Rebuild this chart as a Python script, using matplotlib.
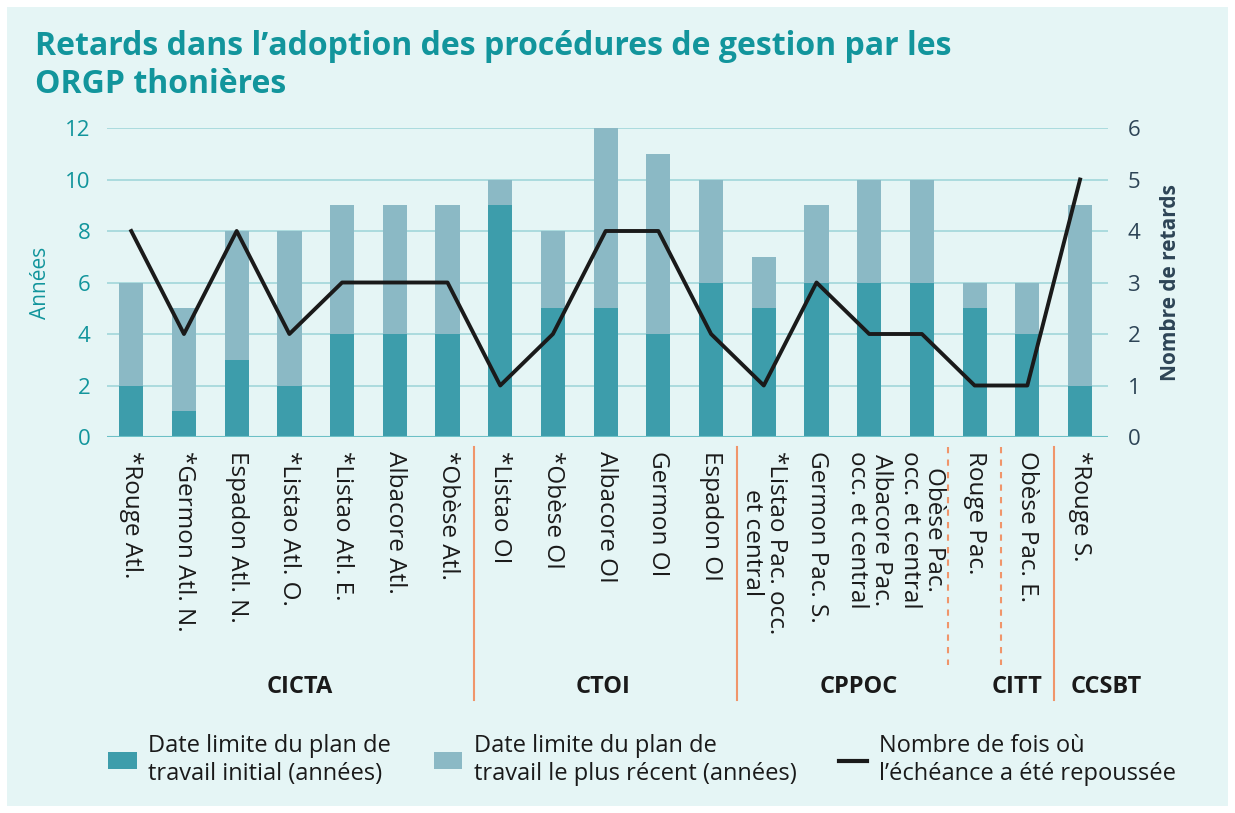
import numpy as np
import matplotlib.pyplot as plt
from matplotlib.patches import Rectangle, Patch
from matplotlib.lines import Line2D
import matplotlib.transforms as mtransforms

plt.rcParams['font.family'] = ['Open Sans', 'DejaVu Sans']

# data
stocks = ["*Rouge Atl.", "*Germon Atl. N.", "Espadon Atl. N.", "*Listao Atl. O.",
          "*Listao Atl. E.", "Albacore Atl.", "*Obèse Atl.", "*Listao OI", "*Obèse OI",
          "Albacore OI", "Germon OI", "Espadon OI", "*Listao Pac. occ.\net central",
          "Germon Pac. S.", "Albacore Pac.\nocc. et central", "Obèse Pac.\nocc. et central",
          "Rouge Pac.", "Obèse Pac. E.", "*Rouge S."]
initial = [2, 1, 3, 2, 4, 4, 4, 9, 5, 5, 4, 6, 5, 6, 6, 6, 5, 4, 2]
recent = [6, 5, 8, 8, 9, 9, 9, 10, 8, 12, 11, 10, 7, 9, 10, 10, 6, 6, 9]
delays = [4, 2, 4, 2, 3, 3, 3, 1, 2, 4, 4, 2, 1, 3, 2, 2, 1, 1, 5]

groups = ["CICTA", "CTOI", "CPPOC", "CITT", "CCSBT"]
group_pos = [3.2, 8.95, 13.8, 16.8, 18.5]
solid_seps = [6.5, 11.5, 17.5]
dashed_seps = [15.5, 16.5]

bg = '#e5f5f5'
dark = '#3d9dab'
light = '#8bb9c5'
teal = '#12959c'
slate = '#2d4456'
orange = '#f0956a'

fig = plt.figure(figsize=(12.35, 8.13), dpi=100)
fig.patch.set_facecolor('white')
fig.patches.append(Rectangle((7/1235, 7/813), 1221/1235, 799/813, transform=fig.transFigure,
                             facecolor=bg, edgecolor='none', zorder=-10))

ax = fig.add_axes([107/1235, 1-437/813, 1001/1235, 309/813])
ax.set_facecolor('none')
x = np.arange(len(stocks))
ax.bar(x, recent, width=0.46, color=light, zorder=2)
ax.bar(x, initial, width=0.46, color=dark, zorder=3)
ax.set_ylim(0, 12)
ax.set_xlim(-0.46, 18.53)
ax.set_yticks(range(0, 13, 2))
ax.grid(axis='y', color='#a6d9dc', lw=1.3, zorder=0)
ax.set_axisbelow(True)
for s in ax.spines.values():
    s.set_visible(False)
ax.axhline(0, color='#6cc0c6', lw=1.5, zorder=4)
ax.tick_params(axis='y', length=0, pad=12, labelsize=16, labelcolor=teal)
ax.tick_params(axis='x', length=0, pad=10)
ax.set_xticks(x)
ax.set_xticklabels(stocks, rotation=270, fontsize=17.5, color='#1a1a1a', va='top', ha='center',
                   linespacing=1.0)
ax.set_ylabel("Années", color=teal, fontsize=15, labelpad=10)

ax2 = ax.twinx()
ax2.plot(x, delays, color='#1a1a1a', lw=2.8, zorder=5)
ax2.set_ylim(0, 6)
ax2.set_yticks(range(0, 7))
for s in ax2.spines.values():
    s.set_visible(False)
ax2.tick_params(axis='y', length=0, pad=14, labelsize=16, labelcolor=slate)
ax2.set_ylabel("Nombre de retards", color=slate, fontsize=15, fontweight='bold', labelpad=14)

trans = mtransforms.blended_transform_factory(ax.transData, ax.transAxes)
for sx in solid_seps:
    ax.plot([sx, sx], [-0.032, -0.851], transform=trans, color=orange, lw=1.5, clip_on=False)
for sx in dashed_seps:
    ax.plot([sx, sx], [-0.032, -0.738], transform=trans, color=orange, lw=1.5, ls=(0, (3, 3)), clip_on=False)
for g, gx in zip(groups, group_pos):
    ax.text(gx, -0.81, g, transform=trans, ha='center', va='center', fontsize=17,
            fontweight='bold', color='#1a1a1a')

fig.text(35/1235, 1-30/813, "Retards dans l’adoption des procédures de gestion par les\nORGP thonières",
         ha='left', va='top', fontsize=23, fontweight='bold', color=teal, linespacing=1.2)

handles = [Patch(facecolor=dark), Patch(facecolor=light),
           Line2D([0], [0], color='#1a1a1a', lw=3)]
labels = ["Date limite du plan de\ntravail initial (années)",
          "Date limite du plan de\ntravail le plus récent (années)",
          "Nombre de fois où\nl’échéance a été repoussée"]
fig.legend(handles, labels, ncol=3, loc='center', bbox_to_anchor=(0.52, 1-760/813),
           frameon=False, fontsize=17, handlelength=1.2, handleheight=0.7,
           columnspacing=1.8, handletextpad=0.5, labelcolor='#1a1a1a')

fig.savefig('out.png', dpi=100)
